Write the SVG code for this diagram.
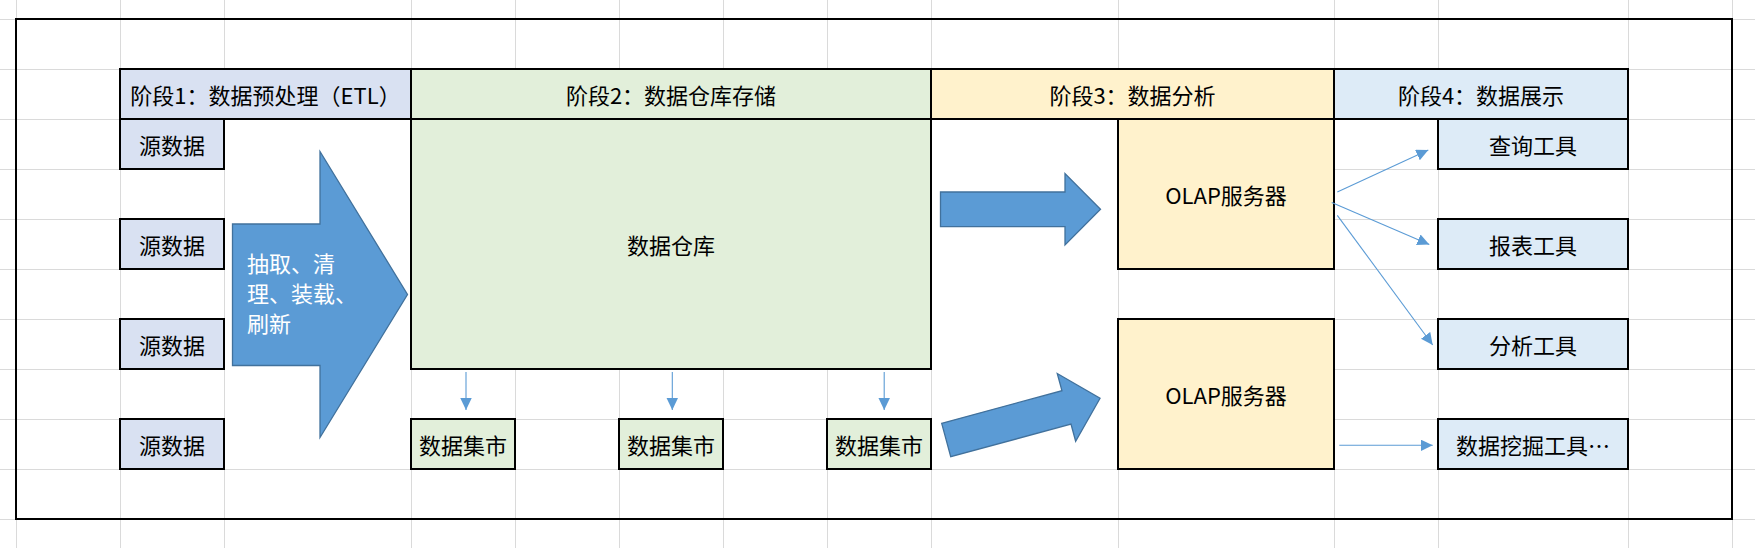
<svg xmlns="http://www.w3.org/2000/svg" width="1755" height="548" viewBox="0 0 1755 548">
<defs>
<style>
.grid{stroke:#DADADA;stroke-width:1;fill:none}
.cell{stroke:#000;stroke-width:2}
.s1{fill:#D9E1F2}.s2{fill:#E2EFDA}.s3{fill:#FFF2CC}.s4{fill:#DDEBF7}
.t{font-family:"Noto Sans CJK SC","Noto Sans CJK JP",sans-serif;font-size:22px;fill:#000;text-anchor:middle}
.tw{font-family:"Noto Sans CJK SC","Noto Sans CJK JP",sans-serif;font-size:22px;fill:#fff}
.block{fill:#5B9BD5;stroke:#41719C;stroke-width:1.3}
.thin{stroke:#5B9BD5;stroke-width:1.1;fill:none;marker-end:url(#ah)}
</style>
<marker id="ah" markerUnits="userSpaceOnUse" markerWidth="13" markerHeight="12" refX="12" refY="5.75" orient="auto">
<path d="M0,0 L12,5.75 L0,11.5 Z" fill="#5B9BD5"/>
</marker>
</defs>
<rect x="0" y="0" width="1755" height="548" fill="#fff"/>
<g id="gridlines">
<path class="grid" d="M16.5,0V548M120.5,0V548M224.5,0V548M411.5,0V548M515.5,0V548M619.5,0V548M723.5,0V548M827.5,0V548M931.5,0V548M1118.5,0V548M1334.5,0V548M1438.5,0V548M1628.5,0V548M1732.5,0V548M0,19.5H1755M0,69.5H1755M0,119.5H1755M0,169.5H1755M0,219.5H1755M0,269.5H1755M0,319.5H1755M0,369.5H1755M0,419.5H1755M0,469.5H1755M0,519.5H1755"/>
<rect x="225" y="120" width="186" height="349" fill="#fff"/>
<rect x="932" y="120" width="186" height="349" fill="#fff"/>
</g>
<rect id="frame" x="16" y="19" width="1716" height="500" fill="none" stroke="#000" stroke-width="2"/>
<g id="stage1">
<rect class="cell s1" x="120" y="69" width="291" height="50"/>
<text class="t" x="265.5" y="103.5">阶段1：数据预处理（ETL）</text>
</g>
<g id="stage2">
<rect class="cell s2" x="411" y="69" width="520" height="50"/>
<text class="t" x="671" y="103.5">阶段2：数据仓库存储</text>
</g>
<g id="stage3">
<rect class="cell s3" x="931" y="69" width="403" height="50"/>
<text class="t" x="1132.5" y="103.5">阶段3：数据分析</text>
</g>
<g id="stage4">
<rect class="cell s4" x="1334" y="69" width="294" height="50"/>
<text class="t" x="1481" y="103.5">阶段4：数据展示</text>
</g>
<g id="src1"><rect class="cell s1" x="120" y="119" width="104" height="50"/><text class="t" x="172" y="153.5">源数据</text></g>
<g id="src2"><rect class="cell s1" x="120" y="219" width="104" height="50"/><text class="t" x="172" y="253.5">源数据</text></g>
<g id="src3"><rect class="cell s1" x="120" y="319" width="104" height="50"/><text class="t" x="172" y="353.5">源数据</text></g>
<g id="src4"><rect class="cell s1" x="120" y="419" width="104" height="50"/><text class="t" x="172" y="453.5">源数据</text></g>
<g id="etl">
<path class="block" d="M232.5,224 H320 V151.5 L407.5,294.5 L320,437.5 V365.5 H232.5 Z"/>
<text class="tw" x="247" y="272">抽取、清</text>
<text class="tw" x="247" y="302">理、装载、</text>
<text class="tw" x="247" y="332">刷新</text>
</g>
<g id="warehouse"><rect class="cell s2" x="411" y="119" width="520" height="250"/><text class="t" x="671" y="253.5">数据仓库</text></g>
<g id="mart1"><rect class="cell s2" x="411" y="419" width="104" height="50"/><text class="t" x="463" y="453.5">数据集市</text></g>
<g id="mart2"><rect class="cell s2" x="619" y="419" width="104" height="50"/><text class="t" x="671" y="453.5">数据集市</text></g>
<g id="mart3"><rect class="cell s2" x="827" y="419" width="104" height="50"/><text class="t" x="879" y="453.5">数据集市</text></g>
<g id="olap1"><rect class="cell s3" x="1118" y="119" width="216" height="150"/><text class="t" x="1226" y="203.5">OLAP服务器</text></g>
<g id="olap2"><rect class="cell s3" x="1118" y="319" width="216" height="150"/><text class="t" x="1226" y="403.5">OLAP服务器</text></g>
<g id="tool1"><rect class="cell s4" x="1438" y="119" width="190" height="50"/><text class="t" x="1533" y="154">查询工具</text></g>
<g id="tool2"><rect class="cell s4" x="1438" y="219" width="190" height="50"/><text class="t" x="1533" y="254">报表工具</text></g>
<g id="tool3"><rect class="cell s4" x="1438" y="319" width="190" height="50"/><text class="t" x="1533" y="354">分析工具</text></g>
<g id="tool4"><rect class="cell s4" x="1438" y="419" width="190" height="50"/><text class="t" x="1533" y="454">数据挖掘工具…</text></g>
<g id="connectors">
<path class="block" d="M940.5,192 H1065 V173.5 L1100.5,209.3 L1065,245 V226.6 H940.5 Z"/>
<path class="block" transform="translate(946.2,440) rotate(-15.17)" d="M0,-17.3 H124.6 V-35.1 L159.4,0 L124.6,35.1 V17.3 H0 Z"/>
<line class="thin" x1="466" y1="372" x2="466" y2="410"/>
<line class="thin" x1="672.3" y1="372" x2="672.3" y2="410"/>
<line class="thin" x1="884.2" y1="372" x2="884.2" y2="410"/>
<line class="thin" x1="1337.3" y1="192" x2="1428.3" y2="150"/>
<line class="thin" x1="1331.7" y1="202.5" x2="1429.3" y2="244.5"/>
<line class="thin" x1="1337.3" y1="215.3" x2="1432.7" y2="345"/>
<line class="thin" x1="1339.3" y1="445.3" x2="1432.7" y2="445.3"/>
</g>
</svg>
